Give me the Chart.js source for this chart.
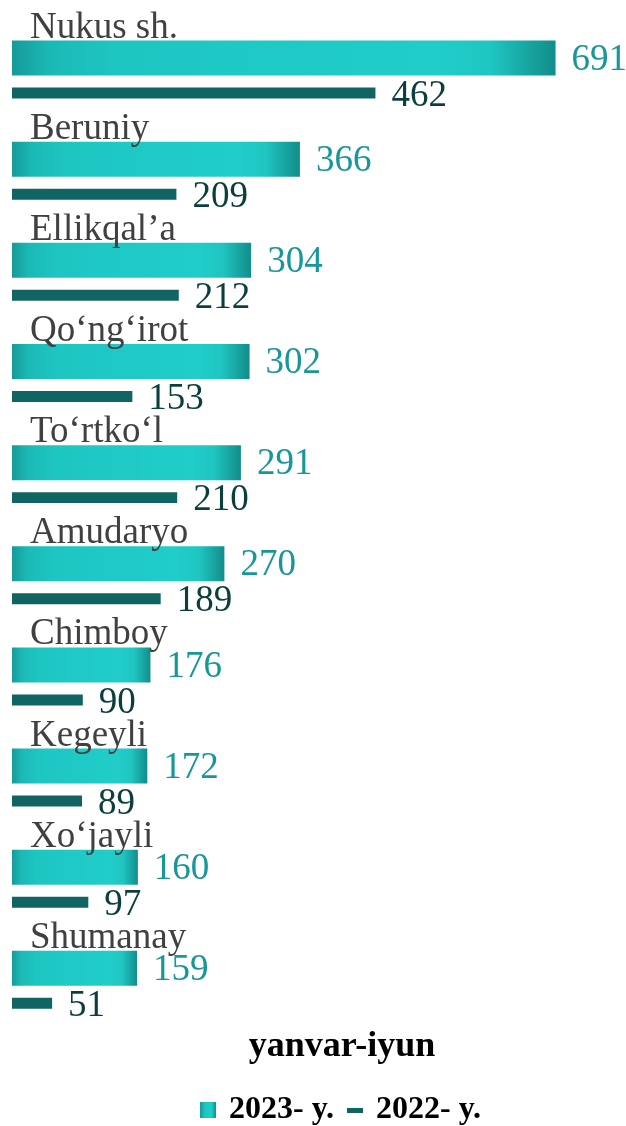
<!DOCTYPE html>
<html>
<head>
<meta charset="utf-8">
<script src="https://cdn.jsdelivr.net/npm/chart.js@4"></script>
<style>
  html, body { margin: 0; padding: 0; background: #fff; overflow: hidden; }
  #wrap { width: 672px; height: 1136px; position: relative; }
</style>
</head>
<body>
<div id="wrap"><canvas id="chart"></canvas></div>
<script>
const districts = ['Nukus sh.', 'Beruniy', 'Ellikqal’a', 'Qo‘ng‘irot', 'To‘rtko‘l',
  'Amudaryo', 'Chimboy', 'Kegeyli', 'Xo‘jayli', 'Shumanay'];
const values2023 = [691, 366, 304, 302, 291, 270, 176, 172, 160, 159];
const values2022 = [462, 209, 212, 153, 210, 189, 90, 89, 97, 51];
const seriesNames = ['2023- y.', '2022- y.'];
const periodTitle = 'yanvar-iyun';

const SERIF = '"Liberation Serif", "Times New Roman", serif';
const COLORS = {
  light: '#1ec9c5',
  bar22: '#106462',
  val23: '#17979a',
  val22: '#0b3f3e',
  label: '#404040',
};

/* gradient across each 2023 bar, dark edges / light body */
function barGradient(ctx) {
  const chart = ctx.chart;
  const x = chart.scales.x;
  if (!x || !chart.chartArea || ctx.raw == null) return COLORS.light;
  const x0 = x.getPixelForValue(0);
  const x1 = x.getPixelForValue(ctx.raw);
  const g = chart.ctx.createLinearGradient(x0, 0, x1, 0);
  g.addColorStop(0, '#159a99');
  g.addColorStop(0.07, '#1bb9b6');
  g.addColorStop(0.2, '#1ec6c2');
  g.addColorStop(0.78, '#20cdc9');
  g.addColorStop(0.88, '#1fc6c2');
  g.addColorStop(1, '#128d8a');
  return g;
}

function legendSwatch(w, h, fill) {
  const c = document.createElement('canvas');
  c.width = w; c.height = h;
  const cx = c.getContext('2d');
  if (fill === 'grad') {
    const g = cx.createLinearGradient(0, 0, w, 0);
    g.addColorStop(0, '#159a99');
    g.addColorStop(0.3, '#1ec6c2');
    g.addColorStop(0.7, '#20cdc9');
    g.addColorStop(1, '#128d8a');
    cx.fillStyle = g;
  } else {
    cx.fillStyle = fill;
  }
  cx.fillRect(0, 0, w, h);
  return c;
}
const swatch23 = legendSwatch(16, 16, 'grad');
const swatch22 = legendSwatch(16, 5, COLORS.bar22);

/* ---------- category names above groups, values after bars ---------- */
const labelPlugin = {
  id: 'labels',
  afterDatasetsDraw(chart) {
    const c = chart.ctx;
    const xs = chart.scales.x;
    const m23 = chart.getDatasetMeta(0);
    const m22 = chart.getDatasetMeta(1);
    c.save();
    c.font = '37px ' + SERIF;
    c.textAlign = 'left';
    m23.data.forEach((bar, i) => {
      const top = bar.y - bar.height / 2;
      c.textBaseline = 'alphabetic';
      c.fillStyle = COLORS.label;
      c.fillText(districts[i], xs.left + 18, top - 3);
      c.textBaseline = 'middle';
      c.fillStyle = COLORS.val23;
      c.fillText(values2023[i], bar.x + 16, bar.y + 2);
      const b2 = m22.data[i];
      c.fillStyle = COLORS.val22;
      c.fillText(values2022[i], b2.x + 16, b2.y + 3);
    });
    c.restore();
  },
};

new Chart(document.getElementById('chart'), {
  type: 'bar',
  data: {
    labels: districts,
    datasets: [
      {
        label: seriesNames[0],
        data: values2023,
        backgroundColor: barGradient,
        categoryPercentage: 0.692,
        barPercentage: 1,
        pointStyle: swatch23,
      },
      {
        label: seriesNames[1],
        data: values2022,
        backgroundColor: COLORS.bar22,
        categoryPercentage: 0.692,
        barPercentage: 0.314,
        pointStyle: swatch22,
      },
    ],
  },
  options: {
    indexAxis: 'y',
    responsive: true,
    maintainAspectRatio: false,
    animation: false,
    layout: { padding: { left: 12, right: 0, top: 25, bottom: 0 } },
    scales: {
      x: { display: false, min: 0, max: 839 },
      y: { display: false },
    },
    plugins: {
      tooltip: { enabled: false },
      title: {
        display: true,
        position: 'bottom',
        text: periodTitle,
        color: '#000',
        font: { family: SERIF, size: 36, weight: 'bold', lineHeight: 0.6 },
        padding: { top: 0, bottom: 20 },
        weight: 1000,
      },
      legend: {
        position: 'bottom',
        weight: 2000,
        labels: {
          usePointStyle: true,
          pointStyleWidth: 10,
          color: '#000',
          font: { family: SERIF, size: 32, weight: 'bold' },
          padding: 16,
          boxWidth: 10,
          boxHeight: 16,
        },
      },
    },
  },
  plugins: [labelPlugin],
});
</script>
</body>
</html>
